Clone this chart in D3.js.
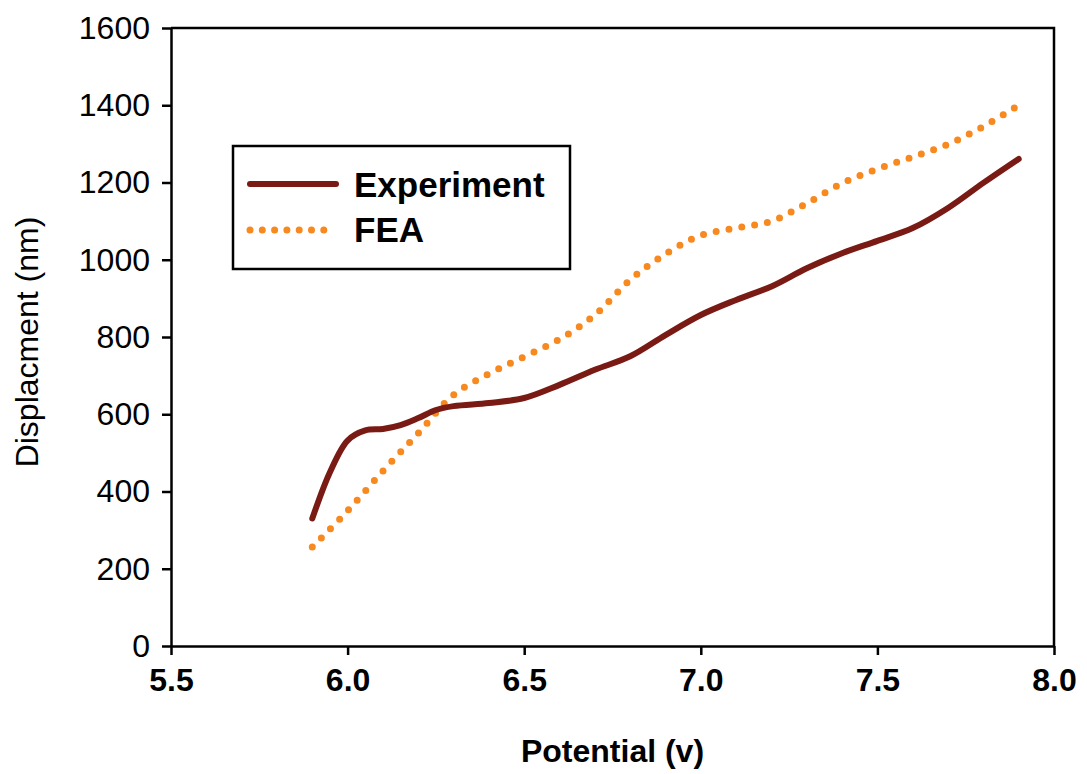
<!DOCTYPE html>
<html>
<head>
<meta charset="utf-8">
<script src="https://cdn.jsdelivr.net/npm/d3@7"></script>
<style>
  body { margin: 0; background: #fff; }
  svg text { font-family: Arial, "Liberation Sans", sans-serif; fill: #000; }
</style>
</head>
<body>
<div id="chart"></div>
<script>
// values
var expVolts = [5.9, 5.95, 6.0, 6.05, 6.1, 6.15, 6.2, 6.25, 6.3, 6.4, 6.5, 6.6, 6.7, 6.8, 6.9,
    7.0, 7.1, 7.2, 7.3, 7.4, 7.5, 7.6, 7.7, 7.8, 7.9];
var expDisp = [330, 450, 532, 558, 562, 572, 590, 611, 621, 629, 642, 676, 715, 750, 805,
    857, 896, 931, 978, 1017, 1049, 1082, 1134, 1199, 1261];

var feaVolts = [5.9, 6.0, 6.1, 6.2, 6.3, 6.4, 6.5, 6.6, 6.7, 6.8, 6.9, 7.0, 7.1, 7.2, 7.3,
    7.4, 7.5, 7.6, 7.7, 7.8, 7.9];
var feaDisp = [256, 350, 453, 551, 650, 705, 749, 794, 857, 948, 1015, 1063, 1082, 1100, 1146,
    1198, 1235, 1266, 1299, 1345, 1400];

var xTicks = [5.5, 6.0, 6.5, 7.0, 7.5, 8.0];
var yTicks = [0, 200, 400, 600, 800, 1000, 1200, 1400, 1600];
var seriesNames = ["Experiment", "FEA"];

var margin = {top: 28, right: 33, bottom: 128, left: 171};
var width = 1087 - margin.left - margin.right;
var height = 774 - margin.top - margin.bottom;

var svg = d3.select("#chart").append("svg")
    .attr("width", 1087)
    .attr("height", 774)
    .append("g")
    .attr("transform", "translate(" + margin.left + "," + margin.top + ")");

var x = d3.scaleLinear().domain([5.5, 8.0]).range([0, width]);
var y = d3.scaleLinear().domain([0, 1600]).range([height, 0]);

// frame top + right
svg.append("path")
    .attr("d", "M0,0H" + width + "V" + height)
    .attr("fill", "none")
    .attr("stroke", "#000")
    .attr("stroke-width", 2.5);

var xAxis = svg.append("g")
    .attr("transform", "translate(0," + height + ")")
    .call(d3.axisBottom(x).tickValues(xTicks).tickFormat(d3.format(".1f"))
        .tickSizeInner(9).tickSizeOuter(0).tickPadding(13));
xAxis.selectAll("text").style("font-size", "32px").style("font-weight", "bold");

var yAxis = svg.append("g")
    .call(d3.axisLeft(y).tickValues(yTicks).tickFormat(d3.format("d"))
        .tickSizeInner(9).tickSizeOuter(0).tickPadding(12));
yAxis.selectAll("text").style("font-size", "32px");

svg.selectAll(".domain, .tick line").attr("stroke", "#000").attr("stroke-width", 2.5);

svg.append("text")
    .attr("x", width / 2)
    .attr("y", height + 116)
    .attr("text-anchor", "middle")
    .style("font-size", "32px")
    .style("font-weight", "bold")
    .text("Potential (v)");

svg.append("text")
    .attr("transform", "translate(" + (38 - margin.left) + "," + (y(800) + 5) + ") rotate(-90)")
    .attr("text-anchor", "middle")
    .style("font-size", "32px")
    .text("Displacment (nm)");

var line = d3.line()
    .x(function (d) { return x(d[0]); })
    .y(function (d) { return y(d[1]); })
    .curve(d3.curveCatmullRom.alpha(0.5));

var expData = expVolts.map(function (v, i) { return [v, expDisp[i]]; });
var feaData = feaVolts.map(function (v, i) { return [v, feaDisp[i]]; });

svg.append("path")
    .datum(feaData)
    .attr("d", line)
    .attr("fill", "none")
    .attr("stroke", "#f7891f")
    .attr("stroke-width", 7)
    .attr("stroke-linecap", "round")
    .attr("stroke-dasharray", "0,13");

svg.append("path")
    .datum(expData)
    .attr("d", line)
    .attr("fill", "none")
    .attr("stroke", "#7a1a14")
    .attr("stroke-width", 6)
    .attr("stroke-linecap", "round");

// legend
var legend = svg.append("g")
    .attr("transform", "translate(" + (233 - margin.left) + "," + (146 - margin.top) + ")");

legend.append("rect")
    .attr("width", 337)
    .attr("height", 123)
    .attr("fill", "#fff")
    .attr("stroke", "#000")
    .attr("stroke-width", 2.5);

legend.append("line")
    .attr("x1", 17).attr("x2", 103)
    .attr("y1", 38).attr("y2", 38)
    .attr("stroke", "#7a1a14")
    .attr("stroke-width", 6)
    .attr("stroke-linecap", "round");

legend.append("line")
    .attr("x1", 17).attr("x2", 103)
    .attr("y1", 84).attr("y2", 84)
    .attr("stroke", "#f7891f")
    .attr("stroke-width", 7)
    .attr("stroke-linecap", "round")
    .attr("stroke-dasharray", "0,12.3");

legend.selectAll(".lbl")
    .data(seriesNames)
    .enter().append("text")
    .attr("class", "lbl")
    .attr("x", 121)
    .attr("y", function (d, i) { return 51 + i * 45; })
    .style("font-size", "35px")
    .style("font-weight", "bold")
    .text(function (d) { return d; });
</script>
</body>
</html>
